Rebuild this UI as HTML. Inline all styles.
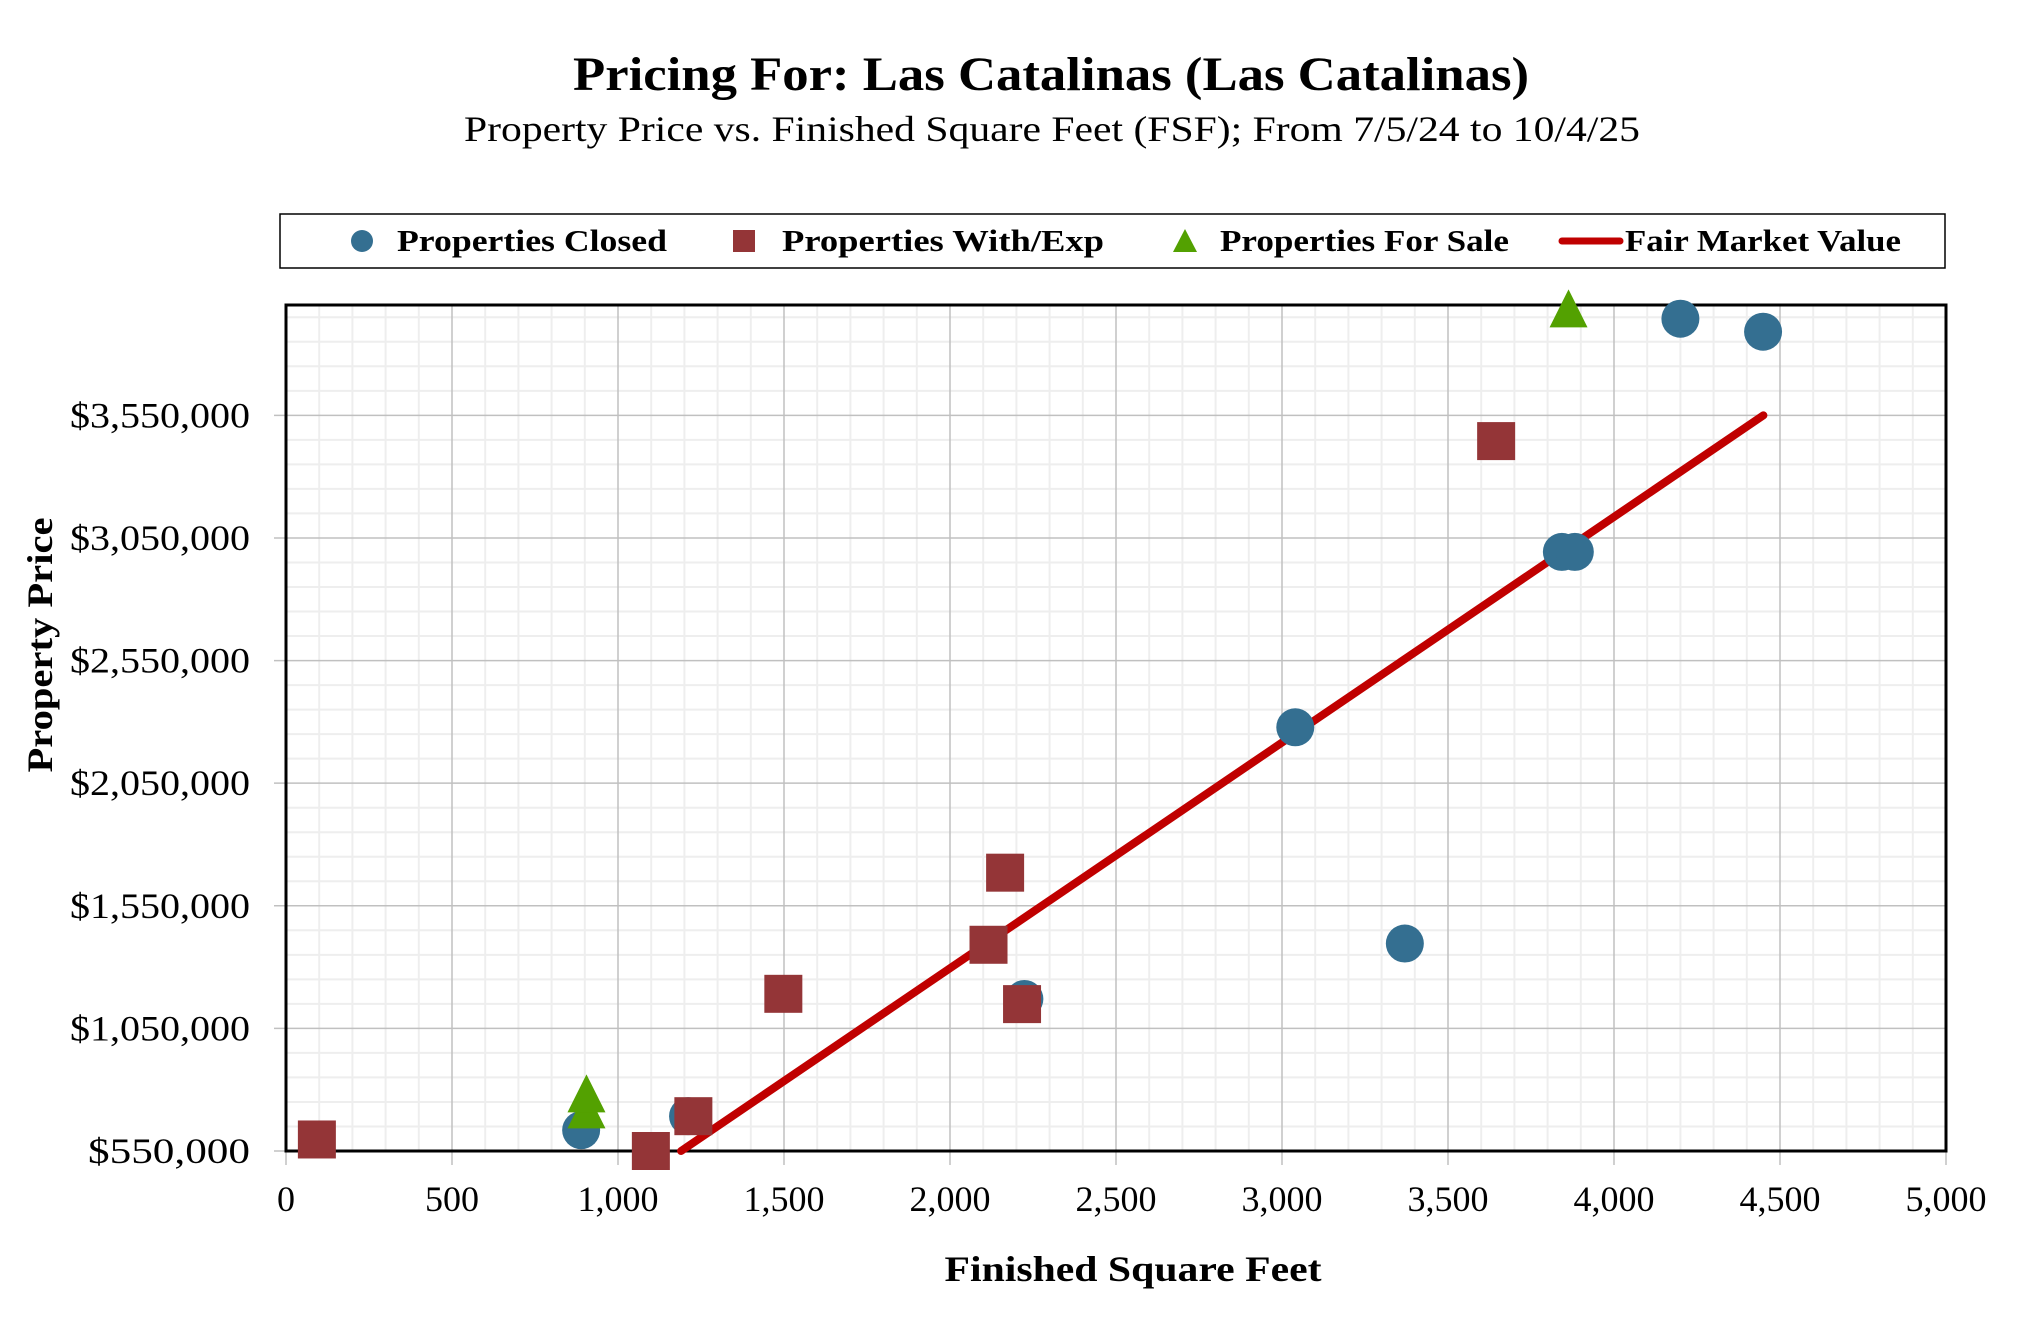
<!DOCTYPE html>
<html><head><meta charset="utf-8"><style>
html,body{margin:0;padding:0;background:#fff;}
svg{display:block;font-family:"Liberation Serif",serif;}
</style></head><body>
<svg id="chart" width="2020" height="1326" viewBox="0 0 2020 1326" xmlns="http://www.w3.org/2000/svg">
<text x="1051" y="90" text-anchor="middle" font-size="48" font-weight="bold" textLength="956" lengthAdjust="spacingAndGlyphs">Pricing For: Las Catalinas (Las Catalinas)</text>
<text x="1052" y="141" text-anchor="middle" font-size="36" textLength="1176" lengthAdjust="spacingAndGlyphs">Property Price vs. Finished Square Feet (FSF); From 7/5/24 to 10/4/25</text>
<g id="grid"></g>
<g id="marks"></g>
<g>
<rect x="280" y="214" width="1665" height="54" fill="#fff" stroke="#000" stroke-width="1.5"/>
<g><circle cx="362" cy="241" r="11" fill="#346f91"/><text x="397" y="251" font-size="31" font-weight="bold" textLength="270" lengthAdjust="spacingAndGlyphs">Properties Closed</text></g>
<g><rect x="733" y="230" width="22" height="22" fill="#943537"/><text x="782" y="251" font-size="31" font-weight="bold" textLength="322" lengthAdjust="spacingAndGlyphs">Properties With/Exp</text></g>
<g><polygon points="1185,229 1197,252 1173,252" fill="#53a101"/><text x="1220" y="251" font-size="31" font-weight="bold" textLength="289" lengthAdjust="spacingAndGlyphs">Properties For Sale</text></g>
<g><line x1="1562" y1="241" x2="1620" y2="241" stroke="#c00000" stroke-width="7" stroke-linecap="round"/><text x="1625" y="251" font-size="31" font-weight="bold" textLength="276" lengthAdjust="spacingAndGlyphs">Fair Market Value</text></g>
</g>
<text x="1133" y="1281" text-anchor="middle" font-size="36" font-weight="bold" textLength="377" lengthAdjust="spacingAndGlyphs">Finished Square Feet</text>
<text transform="translate(52,645) rotate(-90)" text-anchor="middle" font-size="36" font-weight="bold" textLength="255" lengthAdjust="spacingAndGlyphs">Property Price</text>
</svg>
<script>
const xTicks = [0,500,1000,1500,2000,2500,3000,3500,4000,4500,5000];
const xTickLabels = ["0","500","1,000","1,500","2,000","2,500","3,000","3,500","4,000","4,500","5,000"];
const yTicks = [550000,1050000,1550000,2050000,2550000,3050000,3550000];
const yTickLabels = ["$550,000","$1,050,000","$1,550,000","$2,050,000","$2,550,000","$3,050,000","$3,550,000"];
const closedX = [889,1211,2224,3040,3370,3843,3882,4200,4449];
const closedY = [635000,692000,1170000,2278000,1396000,2993000,2993000,3944000,3891000];
const withExpX = [93,1099,1227,1498,2116,2166,2217,3645];
const withExpY = [597000,550000,692000,1191000,1391000,1685000,1149000,3445000];
const forSaleX = [905,905,3863];
const forSaleY = [720000,785000,3986000];
const fmvX = [1190,4450];
const fmvY = [550000,3550000];

const NS="http://www.w3.org/2000/svg";
const L=286,R=1946,T=305,B=1151;
const xMin=0,xMax=5000,yMin=550000,yMax=4000000;
function sx(v){return L+(v-xMin)/(xMax-xMin)*(R-L);}
function sy(v){return B-(v-yMin)/(yMax-yMin)*(B-T);}
function mk(tag,attrs,parent){const e=document.createElementNS(NS,tag);for(const k in attrs)e.setAttribute(k,attrs[k]);parent.appendChild(e);return e;}
const grid=document.getElementById('grid'), marks=document.getElementById('marks');
// minor grid
for(let v=xMin+100;v<xMax;v+=100){if(v%500===0)continue;const l=mk('line',{x1:sx(v),x2:sx(v),y1:T,y2:B,stroke:'#eeeeee','stroke-width':2},grid);

}
for(let v=yMin+100000;v<yMax;v+=100000){if((v-yMin)%500000===0)continue;const l=mk('line',{x1:L,x2:R,y1:sy(v),y2:sy(v),stroke:'#eeeeee','stroke-width':2},grid);

}
xTicks.forEach((v,i)=>{const l=mk('line',{x1:sx(v),x2:sx(v),y1:T,y2:B+14,stroke:'#c0c0c0','stroke-width':1.5},grid);


const t=mk('text',{x:sx(v),y:1211,'text-anchor':'middle','font-size':36},grid);t.textContent=xTickLabels[i];

});
yTicks.forEach((v,i)=>{const l=mk('line',{x1:L-12,x2:R,y1:sy(v),y2:sy(v),stroke:'#c0c0c0','stroke-width':1.5},grid);


const t=mk('text',{x:250,y:sy(v)+12,'text-anchor':'end','font-size':36,textLength:yTickLabels[i].length>8?180:162,lengthAdjust:'spacingAndGlyphs'},grid);t.textContent=yTickLabels[i];

});
const fr=mk('rect',{x:L,y:T,width:R-L,height:B-T,fill:'none',stroke:'#000','stroke-width':3},grid);


// fmv line clipped to bottom
const cp=mk('clipPath',{id:'pc'},marks);mk('rect',{x:L,y:T-40,width:R-L,height:B-T+40},cp);
const fl=mk('line',{x1:sx(fmvX[0]),y1:sy(fmvY[0]),x2:sx(fmvX[1]),y2:sy(fmvY[1]),stroke:'#c00000','stroke-width':8,'stroke-linecap':'round'},marks);


closedX.forEach((x,i)=>{const c=mk('circle',{cx:sx(x),cy:sy(closedY[i]),r:19,fill:'#346f91'},marks);

});
withExpX.forEach((x,i)=>{const r=mk('rect',{x:sx(x)-19,y:sy(withExpY[i])-19,width:38,height:38,fill:'#943537'},marks);

});
forSaleX.forEach((x,i)=>{const cx=sx(x),cy=sy(forSaleY[i]);const p=mk('polygon',{points:`${cx},${cy-19} ${cx+19},${cy+19} ${cx-19},${cy+19}`,fill:'#53a101'},marks);

});
</script>
</body></html>
